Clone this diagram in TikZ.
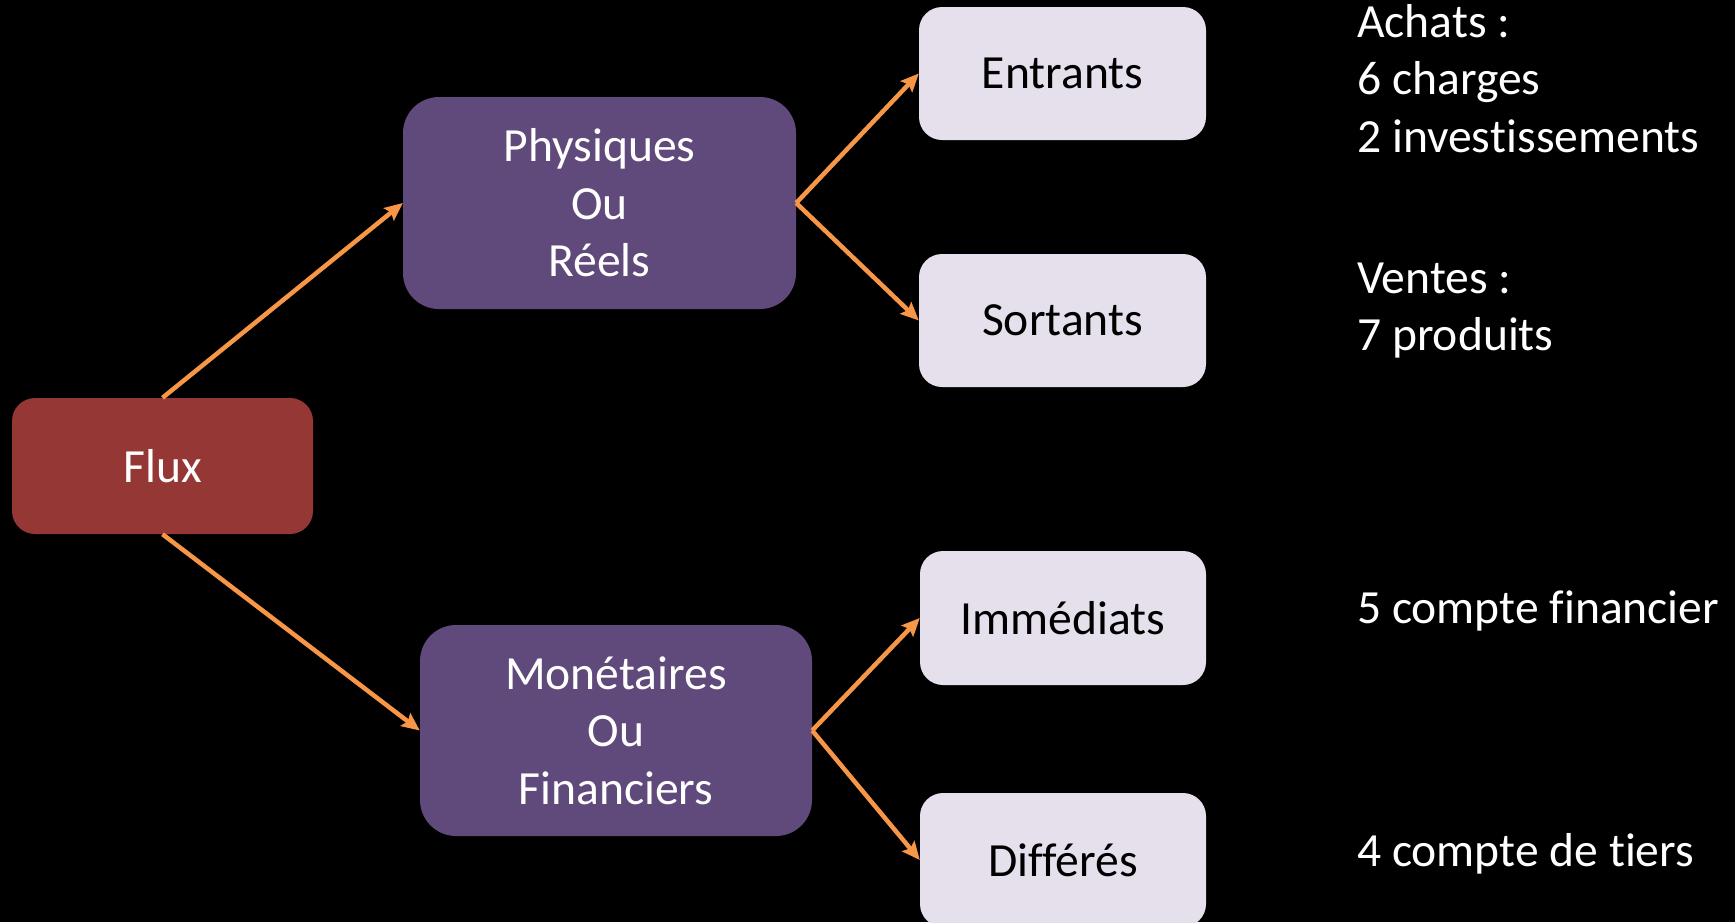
\documentclass[tikz,border=0pt]{standalone}
\usepackage{fontspec}
\setmainfont{Carlito}[Ligatures={NoCommon,NoRare,NoContextual},Contextuals={NoAlternate}]
\usetikzlibrary{arrows.meta}
\definecolor{fluxred}{HTML}{953735}
\definecolor{purp}{HTML}{604A7B}
\definecolor{lav}{HTML}{E5E0EC}
\definecolor{orng}{HTML}{F79646}
\begin{document}
\begin{tikzpicture}[x=1pt,y=-1pt,
  txt/.style={font=\fontsize{47.6}{57.5}\selectfont},
  basebox/.style={rectangle, inner sep=0pt, align=center, txt},
  redbox/.style={basebox, fill=fluxred, text=white, rounded corners=23pt},
  purpbox/.style={basebox, fill=purp, text=white, rounded corners=36pt},
  lavbox/.style={basebox, fill=lav, text=black, rounded corners=23pt},
  note/.style={txt, text=white, anchor=base west, inner sep=0pt},
  conn/.style={draw=orng, line width=4.5pt, -{Stealth[length=18pt,width=16pt,inset=3pt]}}
]
\clip (0,0) rectangle (1735,922);
\fill[black] (0,0) rectangle (1735,922);

\node[redbox, minimum width=301pt, minimum height=136pt] (flux) at (162.5,466) {Flux};
\node[purpbox, minimum width=393pt, minimum height=212pt] (phys) at (599.5,203) {Physiques\\Ou\\Réels};
\node[purpbox, minimum width=392pt, minimum height=211pt] (mon) at (616,730.5) {Monétaires\\Ou\\Financiers};
\node[lavbox, minimum width=287pt, minimum height=133pt] (ent) at (1062.5,73.5) {Entrants};
\node[lavbox, minimum width=287pt, minimum height=133pt] (sor) at (1062.5,320.5) {Sortants};
\node[lavbox, minimum width=286pt, minimum height=134pt] (imm) at (1063,618) {Immédiats};
\node[lavbox, minimum width=286pt, minimum height=134pt] (dif) at (1063,860) {Différés};

\node[note] (a1) at (1357,37) {Achats :};
\node[note] (a2) at (1357,94.5) {6 charges};
\node[note] (a3) at (1357,152) {2 inves\kern0pt tissements};
\node[note] (v1) at (1357,293) {Ventes :};
\node[note] (v2) at (1357,350) {7 produits};
\node[note] (f1) at (1357,623) {5 compte financier};
\node[note] (t1) at (1357,866) {4 compte de t\kern0pt iers};

\draw[conn] (flux.north) -- (phys.west);
\draw[conn] (flux.south) -- (mon.west);
\draw[conn] (phys.east) -- (ent.west);
\draw[conn] (phys.east) -- (sor.west);
\draw[conn] (mon.east) -- (imm.west);
\draw[conn] (mon.east) -- (dif.west);
\end{tikzpicture}
\end{document}
